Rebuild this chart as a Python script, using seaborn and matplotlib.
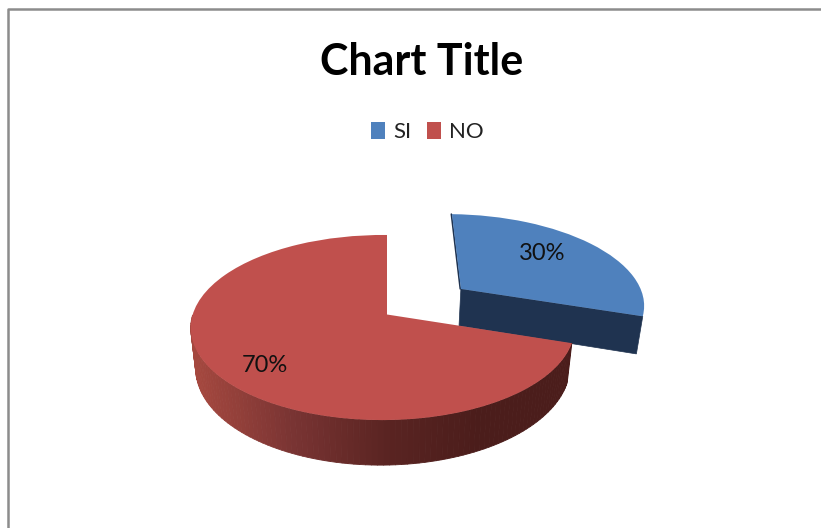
import numpy as np
import seaborn as sns
import matplotlib.pyplot as plt
from matplotlib.collections import PolyCollection
from matplotlib.transforms import Transform

labels = ['SI', 'NO']
shares = [30, 70]
colors = ['#4F81BD', '#C0504D']

sns.set_theme(style='white')
plt.rcParams['font.family'] = ['Lato', 'DejaVu Sans']

# vista 3D: perspectiva del disco unidad a pixeles de la imagen
CX, CY = 387.0, 314.5
RX, RY = 190.0, 90.7
K, M = 0.1406, 0.022
DEPTH = 38.7


def project(u, v, down=False):
    u, v = np.asarray(u, float), np.asarray(v, float)
    w = 1 + K * v + M * u
    px = CX + RX * u / w
    py = CY - RY * v / w
    if down:
        px = CX + (px - CX) * 0.975
        py = py + DEPTH / w
    return px, py


class Persp(Transform):
    input_dims = output_dims = 2

    def transform_non_affine(self, values):
        px, py = project(values[:, 0], values[:, 1])
        return np.column_stack([px, py])


def rim(w, n=160):
    t = np.radians(np.linspace(w.theta1, w.theta2, n))
    return w.center[0] + w.r * np.cos(t), w.center[1] + w.r * np.sin(t)


fig = plt.figure(figsize=(8.21, 5.28), dpi=100)
ax = fig.add_axes([0, 0, 1, 1])
wedges, _ = ax.pie(shares, colors=colors, startangle=90, counterclock=False,
                   explode=[0.505, 0], radius=1)
wedges[0].set_radius(1.025)
ax.set_aspect('auto')
ax.set_xlim(0, 821)
ax.set_ylim(528, 0)
ax.axis('off')

for w, z in zip(wedges, [3, 6]):
    w.set_transform(Persp() + ax.transData)
    w.set_zorder(z)
    w.set_edgecolor('none')

# cara de corte de la porcion azul
blue = wedges[0]
u0, v0 = blue.center
t_end = np.radians(blue.theta1)
t_start = np.radians(blue.theta2)
navy = '#1F3350'
ue = np.array([u0, u0 + blue.r * np.cos(t_end)])
ve = np.array([v0, v0 + blue.r * np.sin(t_end)])
x1, y1 = project(ue, ve)
x2, y2 = project(ue, ve, down=True)
ax.fill(np.r_[x1, x2[::-1]], np.r_[y1, y2[::-1]], color=navy, lw=0.5, zorder=2)
# borde fino a la izquierda
ue = np.array([u0, u0 + blue.r * np.cos(t_start)])
ve = np.array([v0, v0 + blue.r * np.sin(t_start)])
x1, y1 = project(ue, ve)
ax.plot(x1 - 0.6, y1, color=navy, lw=1.2, zorder=2)

# lateral de la porcion roja con degradado
red = wedges[1]
ru, rv = rim(red)
keep = rv <= 0.02
ru, rv = ru[keep], rv[keep]
xt, yt = project(ru, rv)
xb, yb = project(ru, rv, down=True)
polys = [[(xt[i], yt[i]), (xt[i + 1], yt[i + 1]), (xb[i + 1], yb[i + 1]), (xb[i], yb[i])]
         for i in range(len(xt) - 1)]
side_cmap = sns.blend_palette(['#A5483F', '#7A3433', '#5A2422', '#4B1D1B', '#4B1D1B'], as_cmap=True)
side = PolyCollection(polys, array=(xt[:-1] + xt[1:]) / 2, cmap=side_cmap, zorder=5,
                      linewidths=0.6, edgecolors='face')
side.set_clim(195, 575)
ax.add_collection(side)

ax.text(542, 254, f'{shares[0]}%', fontsize=17, color='#111111', ha='center', va='center', zorder=8)
ax.text(265, 365, f'{shares[1]}%', fontsize=17, color='#111111', ha='center', va='center', zorder=8)

fig.text(422 / 821, 1 - 62 / 528, 'Chart Title', fontsize=31, fontweight='bold',
         color='black', ha='center', va='center')
ax.legend(wedges, labels, ncol=2, frameon=False, loc='center',
          bbox_to_anchor=(427 / 821, 1 - 132 / 528), fontsize=16, handlelength=0.65,
          handleheight=0.85, handletextpad=0.35, columnspacing=0.7, labelcolor='#222222')

# marco gris, cortado por la derecha y por abajo
ax.plot([7.5, 7.5, 830], [535, 9, 9], color='#8C8C8C', lw=1.8, zorder=1, clip_on=True)

fig.savefig('out.png', dpi=100)
